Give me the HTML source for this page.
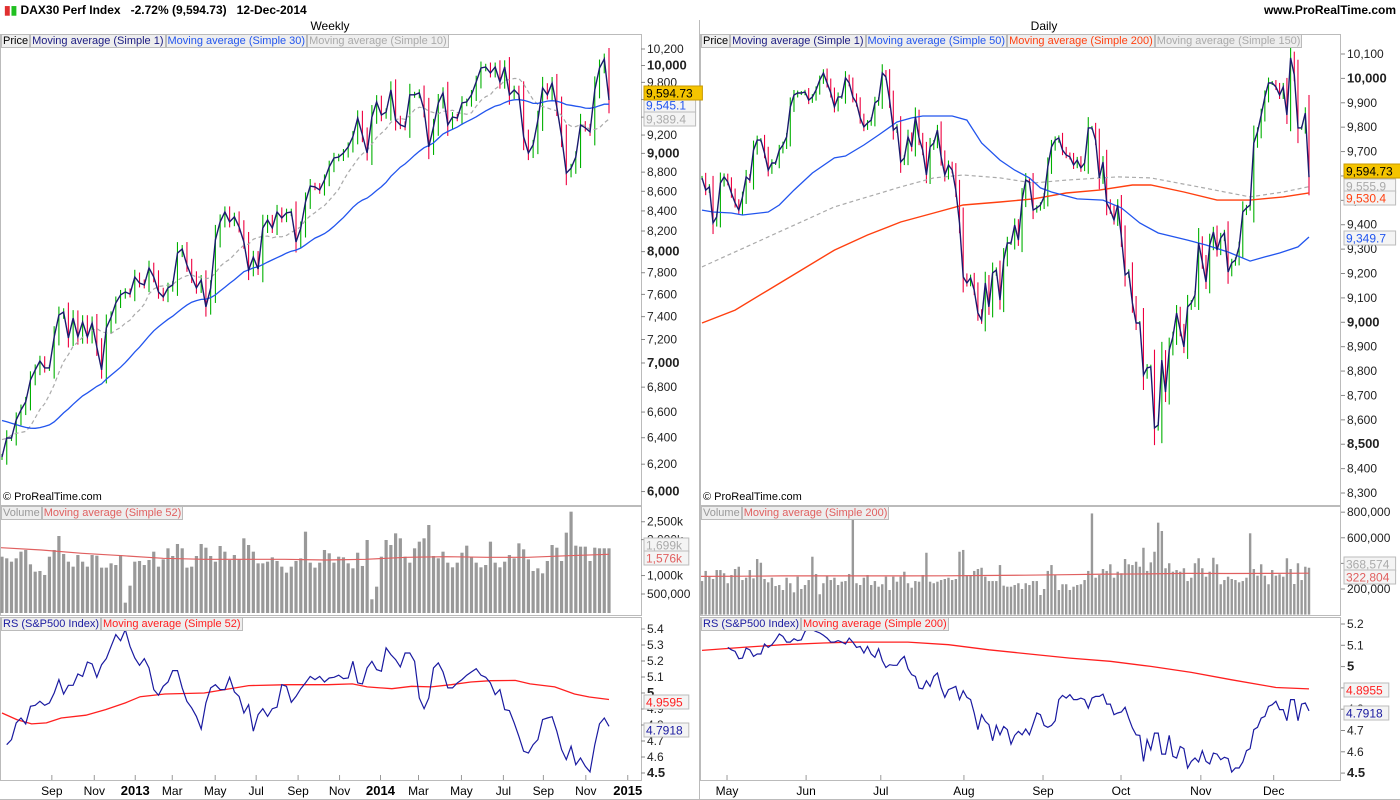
<!DOCTYPE html>
<html><head><meta charset="utf-8"><style>
body{margin:0;background:#fff;width:1400px;height:800px;overflow:hidden;font-family:"Liberation Sans",Arial,sans-serif;}
#wrap{position:relative;width:1400px;height:800px;}
.lg{position:absolute;display:flex;font-size:11px;line-height:12px;}
.lg span{border:1px solid #bbb;background:#eee;padding:0 1px;margin-right:0;white-space:nowrap;}
.hdr{position:absolute;font-weight:bold;font-size:12px;top:3px;}
svg text{font-family:"Liberation Sans",Arial,sans-serif;}
</style></head><body><div id="wrap">
<svg id="svg" width="1400" height="800" style="position:absolute;left:0;top:0"></svg>
<div class="hdr" style="left:4px"><span style="color:#e03030">▮</span><span style="color:#20c020">▮</span> DAX30 Perf Index &nbsp; -2.72% (9,594.73) &nbsp; 12-Dec-2014</div>
<div class="hdr" style="right:4px">www.ProRealTime.com</div>
<div class="lg" style="left:1px;top:34px"><span style="color:#000">Price</span><span style="color:#1a1a80">Moving average (Simple 1)</span><span style="color:#2255ee">Moving average (Simple 30)</span><span style="color:#aaa">Moving average (Simple 10)</span></div>
<div class="lg" style="left:701px;top:34px"><span style="color:#000">Price</span><span style="color:#1a1a80">Moving average (Simple 1)</span><span style="color:#2255ee">Moving average (Simple 50)</span><span style="color:#ff4010">Moving average (Simple 200)</span><span style="color:#aaa">Moving average (Simple 150)</span></div>
<div class="lg" style="left:1px;top:506px"><span style="color:#999">Volume</span><span style="color:#e06060">Moving average (Simple 52)</span></div>
<div class="lg" style="left:701px;top:506px"><span style="color:#999">Volume</span><span style="color:#e06060">Moving average (Simple 200)</span></div>
<div class="lg" style="left:1px;top:617px"><span style="color:#1a1aa0">RS (S&amp;P500 Index)</span><span style="color:#ff2020">Moving average (Simple 52)</span></div>
<div class="lg" style="left:701px;top:617px"><span style="color:#1a1aa0">RS (S&amp;P500 Index)</span><span style="color:#ff2020">Moving average (Simple 200)</span></div>
</div>
<script>
const weeklyHistory=[6700,6750,6850,6950,7000,7050,6950,6850,6700,6600,6500,6400,6350,6250,6300,6200,6350,6500,6550,6350,6300,6150,6400,6550,6600,6450,6300,6350,6500];
const weeklyClose=[6254,6398,6398,6538,6616,6681,6860,6942,7017,6959,6959,7222,7414,7441,7213,7387,7222,7353,7222,7344,7136,6942,7300,7396,7522,7595,7622,7604,7760,7705,7687,7845,7760,7622,7577,7659,7687,7986,8025,7874,7760,7659,7732,7487,7659,8113,8290,8390,8290,8340,8240,8093,7825,7948,7835,8230,8310,8230,8390,8330,8380,8390,8093,8230,8491,8655,8645,8613,8718,8855,8950,8961,9004,9070,9182,9390,9201,9004,9401,9573,9424,9457,9712,9368,9313,9291,9655,9655,9678,9480,9070,9291,9561,9678,9313,9401,9390,9561,9573,9655,9805,9970,9982,9911,9982,9805,9982,9655,9712,9655,9182,9004,9092,9368,9735,9655,9793,9515,9182,8790,8843,8961,9313,9280,9235,9712,9970,10080,9594.73];
const weeklyVolumeK=[1481,1438,1350,1438,1613,1657,1280,1087,1105,1000,1481,1657,2025,1552,1350,1219,1525,1350,1219,1525,1508,1193,1193,1306,1262,1525,272,719,1350,1368,1262,1394,1613,1219,1411,1701,1499,1815,1701,1193,1219,1499,1815,1718,1499,1350,1762,1613,1394,1525,1411,1964,1788,1613,1306,1306,1350,1464,1368,1219,1061,1219,1368,1438,2139,1324,1193,1324,1657,1570,1324,1481,1464,1306,1175,1586,1237,1920,360,693,1481,1920,1788,2095,1964,1481,1324,1701,1876,1964,2314,1499,1438,1613,1324,1201,1324,1586,1771,1481,1324,1201,1262,1876,1324,1201,1350,1525,1438,1832,1674,1411,1105,1175,1043,1368,1788,1718,1368,2113,2665,1771,1745,1745,1368,1718,1701,1701,1701];
const weeklyVolMAK=[1718,1657,1570,1508,1438,1411,1411,1411,1394,1411,1464,1481,1464,1464,1508,1543];
const weeklyRS=[4.677,4.709,4.813,4.844,4.807,4.917,4.923,4.948,4.923,4.938,5.000,5.084,4.994,5.048,5.048,5.119,5.104,5.194,5.182,5.098,5.177,5.215,5.292,5.365,5.327,5.396,5.292,5.219,5.173,5.215,5.157,5.021,4.986,5.042,5.069,5.140,5.140,5.032,4.948,4.907,4.854,4.775,4.938,5.032,5.052,5.021,5.021,5.098,5.007,4.979,4.875,4.927,4.761,4.865,4.902,4.854,4.902,4.911,5.052,5.042,4.942,4.979,5.027,5.063,5.104,5.084,5.104,5.069,5.094,5.098,5.111,5.090,5.094,5.198,5.063,5.057,5.157,5.198,5.146,5.136,5.282,5.240,5.209,5.163,5.250,5.250,5.198,4.969,4.902,4.969,5.157,5.188,5.132,5.032,5.032,5.063,5.084,5.111,5.132,5.152,5.111,5.098,5.063,4.990,5.021,4.896,4.890,4.813,4.729,4.636,4.625,4.677,4.709,4.834,4.844,4.852,4.761,4.646,4.584,4.667,4.552,4.594,4.542,4.507,4.677,4.807,4.844,4.7918];
const weeklyRSMAWeek=[0,3,6,9,12,17,21,25,28,33,41,50,58,66,71,74,79,83,87,91,95,99,104,107,112,116,119,123];
const weeklyRSMA=[4.875,4.834,4.807,4.813,4.844,4.861,4.896,4.938,4.977,4.994,5.000,5.046,5.052,5.052,5.057,5.038,5.027,5.042,5.038,5.052,5.069,5.077,5.079,5.057,5.038,4.994,4.975,4.9595];
const weeklyTickVals=[10200,10000,9800,9600,9400,9200,9000,8800,8600,8400,8200,8000,7800,7600,7400,7200,7000,6800,6600,6400,6200,6000];
const weeklyMonthIdx=[10.1,18.7,27,34.5,43.2,51.5,60,68.4,76.7,84.4,93.1,101.6,109.7,118.3,126.8];
const weeklyMonthLbl=["Sep","Nov","2013","Mar","May","Jul","Sep","Nov","2014","Mar","May","Jul","Sep","Nov","2015"];

const dailyClose=[9592,9542,9555,9407,9432,9571,9596,9575,9530,9489,9460,9514,9596,9583,9706,9747,9747,9694,9624,9653,9653,9706,9727,9760,9883,9932,9940,9940,9944,9911,9924,9952,9993,10022,9981,9940,9883,9924,9924,10002,9981,9924,9899,9838,9801,9817,9829,9899,9911,10022,10006,9911,9788,9801,9657,9674,9760,9719,9842,9756,9706,9604,9719,9735,9788,9678,9604,9645,9624,9542,9407,9186,9161,9182,9132,9038,9009,9161,9063,9202,9214,9091,9255,9325,9325,9399,9337,9501,9583,9575,9460,9469,9481,9514,9637,9719,9747,9756,9706,9686,9678,9645,9665,9633,9653,9797,9797,9747,9592,9657,9489,9460,9419,9481,9350,9194,9206,9079,8997,8997,8784,8813,8817,8567,8579,8845,8714,8886,8940,9038,8968,8899,9063,9079,9112,9325,9247,9165,9317,9370,9296,9346,9366,9206,9243,9255,9309,9452,9469,9481,9735,9780,9850,9924,9981,9981,9965,9932,9965,9850,10084,10014,9797,9797,9858,9594.73];
const dailyMA50Day=[0,3,8,11,18,21,25,30,36,39,44,48,53,57,60,65,68,72,76,81,85,89,92,95,102,109,114,119,124,132,137,143,149,153,157,162,165];
const dailyMA50=[9460,9452,9448,9440,9452,9481,9542,9612,9674,9682,9727,9768,9821,9838,9846,9846,9846,9829,9735,9665,9624,9592,9551,9534,9506,9501,9469,9407,9366,9337,9317,9288,9251,9268,9284,9309,9349.7];
const dailyMA200Day=[0,9,18,27,36,45,54,63,71,81,90,99,108,117,122,131,140,149,158,165];
const dailyMA200=[8997,9050,9132,9214,9296,9358,9411,9448,9481,9493,9506,9530,9542,9563,9563,9534,9501,9501,9514,9530.4];
const dailyMA150Day=[0,18,36,54,63,71,81,90,99,113,122,135,149,158,165];
const dailyMA150=[9227,9350,9473,9555,9592,9604,9592,9571,9583,9596,9592,9555,9514,9534,9555.9];
const dailyVolumeK=[262,341,296,278,348,348,323,245,309,356,374,270,288,348,283,434,405,278,252,288,223,231,192,288,245,174,296,200,231,270,452,317,159,245,304,270,288,231,257,262,317,780,245,231,288,309,231,262,218,237,296,192,296,257,296,335,245,210,262,257,309,483,257,245,257,270,278,288,270,278,491,505,309,304,341,356,366,296,262,262,262,387,226,218,218,231,245,200,245,231,262,262,153,200,341,387,309,192,237,237,192,218,231,237,270,341,790,288,309,356,341,393,288,335,323,434,393,387,413,374,522,341,408,491,718,653,362,401,335,348,335,362,262,288,401,440,362,296,335,444,393,237,270,296,278,270,252,262,288,635,356,304,393,304,237,348,304,315,296,440,356,239,401,270,374,366];
const dailyVolMAK=[298,300,302,302,302,302,303,305,308,312,316,318,322,321,322,323];
const dailyRS=[5.090,5.079,5.072,5.037,5.040,5.087,5.079,5.048,5.059,5.059,5.106,5.090,5.103,5.126,5.153,5.142,5.115,5.115,5.131,5.122,5.126,5.165,5.181,5.173,5.165,5.158,5.147,5.134,5.115,5.115,5.122,5.115,5.106,5.134,5.115,5.090,5.095,5.064,5.095,5.059,5.043,5.084,5.028,4.996,5.009,5.006,5.006,5.032,5.048,4.990,4.962,4.954,4.899,4.896,4.934,4.907,4.954,4.970,4.902,4.856,4.892,4.899,4.907,4.845,4.887,4.856,4.845,4.782,4.704,4.774,4.743,4.727,4.652,4.724,4.680,4.719,4.704,4.636,4.677,4.696,4.680,4.707,4.680,4.730,4.782,4.774,4.724,4.715,4.724,4.746,4.845,4.865,4.852,4.868,4.845,4.845,4.852,4.845,4.805,4.852,4.860,4.860,4.871,4.824,4.824,4.774,4.782,4.787,4.809,4.758,4.712,4.680,4.677,4.555,4.657,4.610,4.688,4.688,4.589,4.589,4.677,4.579,4.571,4.625,4.615,4.524,4.555,4.571,4.552,4.605,4.555,4.543,4.594,4.589,4.563,4.574,4.568,4.505,4.524,4.524,4.552,4.605,4.615,4.704,4.715,4.758,4.766,4.813,4.821,4.837,4.798,4.798,4.746,4.845,4.845,4.746,4.824,4.829,4.7918];
const dailyRSMADay=[0,11,22,33,41,56,67,78,89,100,111,122,133,144,156,165];
const dailyRSMA=[5.076,5.090,5.103,5.111,5.115,5.115,5.103,5.079,5.059,5.040,5.025,5.001,4.973,4.938,4.902,4.8955];
const dailyTickVals=[10100,10000,9900,9800,9700,9600,9500,9400,9300,9200,9100,9000,8900,8800,8700,8600,8500,8400,8300];
const dailyMonthIdx=[6.8,28.3,48.6,71.2,92.7,113.9,135.6,155.4];
const dailyMonthLbl=["May","Jun","Jul","Aug","Sep","Oct","Nov","Dec"];

const NS="http://www.w3.org/2000/svg";const svg=document.getElementById('svg');
function el(tag,attrs,parent){const e=document.createElementNS(NS,tag);for(const k in attrs)e.setAttribute(k,attrs[k]);(parent||svg).appendChild(e);return e;}
function txt(x,y,s,attrs){const t=el('text',Object.assign({x:x,y:y,'font-size':12},attrs||{}));t.textContent=s;return t;}
const nW=weeklyClose.length,nD=dailyClose.length;
const wx=i=>2+i*(607/(nW-1));
const wxRef=i=>2+i*(607/123);
const dx=i=>702+i*(607/(nD-1));
const wy=v=>49+834*Math.log(10200/v);
const dy=v=>54+(10100-v)*0.2439;
const wvy=k=>613-k/26.3;
const dvy=k=>614.6-k/7.81;
const wry=v=>629+(5.4-v)*160;
const dry=v=>624+(5.2-v)*213;
const frames=[[0,20,1400,0],[0,34,641,471],[700,34,640,471],[0,506,641,109],[700,506,640,109],[0,617,641,163],[700,617,640,163]];
frames.forEach(f=>{const r=el('rect',{x:f[0]+0.5,y:f[1]+0.5,width:f[2],height:f[3],fill:'none',stroke:'#bbb'});

});
el('line',{x1:0,y1:799.5,x2:1400,y2:799.5,stroke:'#bbb'});
el('line',{x1:699.5,y1:20,x2:699.5,y2:800,stroke:'#bbb'});
const tW=txt(330,30,'Weekly',{'text-anchor':'middle'});


const tD=txt(1044,30,'Daily',{'text-anchor':'middle'});


function clip(id,x,y,w,h){const c=el('clipPath',{id:id});el('rect',{x:x,y:y,width:w,height:h},c);}
clip('cwp',1,48,640,456);clip('cdp',701,48,639,456);clip('cwr',1,631,640,148);clip('cdr',701,631,639,148);
function poly(pts,attrs,name,parent){const p=el('polyline',Object.assign({points:pts.map(p=>p[0].toFixed(1)+','+p[1].toFixed(1)).join(' '),fill:'none'},attrs),parent);

return p;}
function priceAxis(vals,yf,x0,bolds,name){vals.forEach(v=>{const y=yf(v);el('line',{x1:x0,y1:y,x2:x0+4,y2:y,stroke:'#888'});
const t=txt(x0+6,y+4,v.toLocaleString('en-US'),{'font-size':bolds.includes(v)?13:12,'font-weight':bolds.includes(v)?'bold':'normal',fill:'#222'});

});}
priceAxis(weeklyTickVals,wy,641,[10000,9000,8000,7000,6000],'weekly-price-tick');
priceAxis(dailyTickVals,dy,1341,[10000,9000,8500],'daily-price-tick');
function simpleTicks(list,x0,name){list.forEach(a=>{el('line',{x1:x0,y1:a[1],x2:x0+4,y2:a[1],stroke:'#888'});
const t=txt(x0+6,a[1]+4,a[0],{'font-size':a[2]?13:12,'font-weight':a[2]?'bold':'normal',fill:'#222'});

});}
simpleTicks([['2,500k',wvy(2400)],['2,000k',wvy(1930)],['1,000k',wvy(985)],['500,000',wvy(500)]],641,'weekly-volume-tick');
simpleTicks([['800,000',dvy(800)],['600,000',dvy(600)],['400,000',dvy(400)],['200,000',dvy(200)]],1341,'daily-volume-tick');
simpleTicks([5.4,5.3,5.2,5.1,5,4.9,4.8,4.7,4.6,4.5].map(v=>[String(v),wry(v),v===5||v===4.5]),641,'weekly-rs-tick');
simpleTicks([5.2,5.1,5,4.9,4.8,4.7,4.6,4.5].map(v=>[String(v),dry(v),v===5||v===4.5]),1341,'daily-rs-tick');
weeklyMonthIdx.forEach((m,i)=>{const x=wxRef(m);el('line',{x1:x,y1:775,x2:x,y2:780,stroke:'#999'});
const t=txt(x,795,weeklyMonthLbl[i],{'text-anchor':'middle','font-size':/^\d/.test(weeklyMonthLbl[i])?13:12,'font-weight':/^\d/.test(weeklyMonthLbl[i])?'bold':'normal'});

});
dailyMonthIdx.forEach((m,i)=>{const x=dx(m);el('line',{x1:x,y1:775,x2:x,y2:780,stroke:'#999'});
const t=txt(x,795,dailyMonthLbl[i],{'text-anchor':'middle'});

});
function bars(closes,xf,yf,clipId,name,ext){const g=el('g',{'clip-path':'url(#'+clipId+')'});
closes.forEach((c,i)=>{const p=i?closes[i-1]:c;const up=c>=p;const y1=yf(Math.max(c,p)),y2=yf(Math.min(c,p));const e=(y2-y1)*0.25+ext;
const l=el('line',{x1:xf(i),x2:xf(i),y1:y1-e,y2:y2+e,stroke:up?'#00b000':'#ee0040','stroke-width':1.1},g);

});return g;}
bars(weeklyClose,wx,wy,'cwp','weekly-price-bar',3);
bars(dailyClose,dx,dy,'cdp','daily-price-bar',2);
const allW=weeklyHistory.concat(weeklyClose),hN=weeklyHistory.length;
function ma(n){return weeklyClose.map((c,i)=>{let s=0;for(let k=0;k<n;k++)s+=allW[hN+i-k];return s/n;});}
const ma30=ma(30),ma10=ma(10);
const gwp=el('g',{'clip-path':'url(#cwp)'});
poly(ma10.map((v,i)=>[wx(i),wy(v)]),{stroke:'#aaa','stroke-dasharray':'4,3','stroke-width':1.2},'weekly-ma10-line',gwp);
poly(ma30.map((v,i)=>[wx(i),wy(v)]),{stroke:'#2255ee','stroke-width':1.3},'weekly-ma30-line',gwp);
poly(weeklyClose.map((v,i)=>[wx(i),wy(v)]),{stroke:'#1a1a6e','stroke-width':1.4},'weekly-price-line',gwp);
const gdp=el('g',{'clip-path':'url(#cdp)'});
poly(dailyMA150.map((v,i)=>[dx(dailyMA150Day[i]),dy(v)]),{stroke:'#aaa','stroke-dasharray':'4,3','stroke-width':1.2},'daily-ma150-line',gdp);
poly(dailyMA200.map((v,i)=>[dx(dailyMA200Day[i]),dy(v)]),{stroke:'#ff4010','stroke-width':1.4},'daily-ma200-line',gdp);
poly(dailyMA50.map((v,i)=>[dx(dailyMA50Day[i]),dy(v)]),{stroke:'#2255ee','stroke-width':1.3},'daily-ma50-line',gdp);
poly(dailyClose.map((v,i)=>[dx(i),dy(v)]),{stroke:'#1a1a6e','stroke-width':1.4},'daily-price-line',gdp);
const offW=nW-weeklyVolumeK.length;
weeklyVolumeK.forEach((k,i)=>{const x=wx(i+offW);if(x<1)return;const r=el('rect',{x:x-1.6,y:wvy(k),width:3.2,height:613-wvy(k),fill:'#999'});

});
poly(weeklyVolMAK.map((k,i)=>[1+i*(608/(weeklyVolMAK.length-1)),wvy(k)]),{stroke:'#e06060','stroke-width':1.2},'weekly-volume-ma');
const offD=nD-dailyVolumeK.length;
dailyVolumeK.forEach((k,i)=>{const x=dx(i+offD);const r=el('rect',{x:x-1.2,y:dvy(k),width:2.4,height:614.6-dvy(k),fill:'#999'});

});
poly(dailyVolMAK.map((k,i)=>[701+i*(608/(dailyVolMAK.length-1)),dvy(k)]),{stroke:'#e06060','stroke-width':1.2},'daily-volume-ma');
const offR=nW-weeklyRS.length;
const gwr=el('g',{'clip-path':'url(#cwr)'});
poly(weeklyRSMA.map((v,i)=>[wxRef(weeklyRSMAWeek[i]),wry(v)]),{stroke:'#ff2020','stroke-width':1.3},'weekly-rs-ma',gwr);
poly(weeklyRS.map((v,i)=>[wx(i+offR),wry(v)]),{stroke:'#1a1aa0','stroke-width':1.2},'weekly-rs-line',gwr);
const offDR=nD-dailyRS.length;
const gdr=el('g',{'clip-path':'url(#cdr)'});
poly(dailyRSMA.map((v,i)=>[dx(dailyRSMADay[i]),dry(v)]),{stroke:'#ff2020','stroke-width':1.3},'daily-rs-ma',gdr);
poly(dailyRS.map((v,i)=>[dx(i+offDR),dry(v)]),{stroke:'#1a1aa0','stroke-width':1.2},'daily-rs-line',gdr);
function box(x,y,s,fg,bg,name){const w=s.length*6.8+4;const r=el('rect',{x:x,y:y-7,width:w,height:14,fill:bg,stroke:bg==='#f5c400'?'#c99a00':'#bbb'});


const t=txt(x+2,y+4.5,s,{fill:fg,'font-size':12});

}
box(644,119,'9,389.4','#aaa','#f4f4f4','weekly-ma10-value');
box(644,105,'9,545.1','#2255ee','#f4f4f4','weekly-ma30-value');
box(644,93,'9,594.73','#000','#f5c400','weekly-last-price');
box(1344,238,'9,349.7','#2255ee','#f4f4f4','daily-ma50-value');
box(1344,186,'9,555.9','#aaa','#f4f4f4','daily-ma150-value');
box(1344,198,'9,530.4','#ff4010','#f4f4f4','daily-ma200-value');
box(1344,171,'9,594.73','#000','#f5c400','daily-last-price');
box(644,545,'1,699k','#aaa','#f4f4f4','weekly-volume-value');
box(644,558,'1,576k','#e06060','#f4f4f4','weekly-volume-ma-value');
box(1344,564,'368,574','#aaa','#f4f4f4','daily-volume-value');
box(1344,577,'322,804','#e06060','#f4f4f4','daily-volume-ma-value');
box(644,702,'4.9595','#ff2020','#f4f4f4','weekly-rs-ma-value');
box(644,730,'4.7918','#1a1aa0','#f4f4f4','weekly-rs-value');
box(1344,690,'4.8955','#ff2020','#f4f4f4','daily-rs-ma-value');
box(1344,713,'4.7918','#1a1aa0','#f4f4f4','daily-rs-value');
const c1=txt(3,500,'© ProRealTime.com',{'font-size':11});


const c2=txt(703,500,'© ProRealTime.com',{'font-size':11});


</script></body></html>
